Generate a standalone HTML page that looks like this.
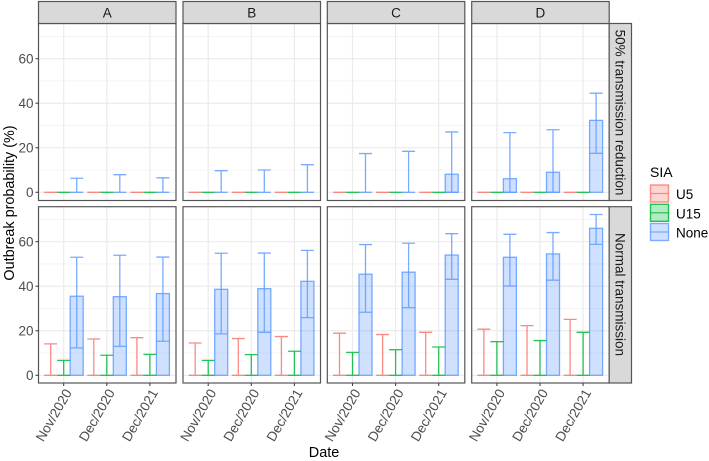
<!DOCTYPE html>
<html>
<head>
<meta charset="utf-8">
<title>Outbreak probability chart</title>
<style>
html,body{margin:0;padding:0;background:#fff;}
svg{display:block;font-family:"Liberation Sans",sans-serif;filter:blur(0.3px);}
</style>
</head>
<body>
<svg id="chart" xmlns="http://www.w3.org/2000/svg" width="709" height="461" viewBox="0 0 709 461">
<rect x="0" y="0" width="709" height="461" fill="#fff"/>
<g id="panels"></g>
<g>
<g><rect x="38.5" y="1.5" width="137.5" height="22" fill="#d9d9d9" stroke="#555" stroke-width="1.2"/><text x="107.2" y="17.5" font-size="13.5" fill="#1a1a1a" text-anchor="middle">A</text></g>
<g><rect x="183" y="1.5" width="137.5" height="22" fill="#d9d9d9" stroke="#555" stroke-width="1.2"/><text x="251.7" y="17.5" font-size="13.5" fill="#1a1a1a" text-anchor="middle">B</text></g>
<g><rect x="327.3" y="1.5" width="137.5" height="22" fill="#d9d9d9" stroke="#555" stroke-width="1.2"/><text x="396" y="17.5" font-size="13.5" fill="#1a1a1a" text-anchor="middle">C</text></g>
<g><rect x="471.7" y="1.5" width="137.5" height="22" fill="#d9d9d9" stroke="#555" stroke-width="1.2"/><text x="540.4" y="17.5" font-size="13.5" fill="#1a1a1a" text-anchor="middle">D</text></g>
</g>
<g>
<g><rect x="609.2" y="23.5" width="22.3" height="177" fill="#d9d9d9" stroke="#555" stroke-width="1.2"/><text transform="translate(615.3,112.5) rotate(90)" font-size="13.5" fill="#1a1a1a" text-anchor="middle">50% transmission reduction</text></g>
<g><rect x="609.2" y="206.7" width="22.3" height="176.3" fill="#d9d9d9" stroke="#555" stroke-width="1.2"/><text transform="translate(615.3,294.5) rotate(90)" font-size="13.5" fill="#1a1a1a" text-anchor="middle">Normal transmission</text></g>
</g>
<text transform="translate(14,203) rotate(-90)" font-size="14.4" fill="#000" text-anchor="middle">Outbreak probability (%)</text>
<text x="324" y="457" font-size="14.4" fill="#000" text-anchor="middle">Date</text>
<g>
<text x="650" y="177" font-size="14" fill="#000">SIA</text>
<g><rect x="650.5" y="185" width="18" height="17" fill="#F8766D" fill-opacity="0.3" stroke="#F8766D" stroke-opacity="0.8" stroke-width="1.4"/><line x1="650.5" x2="668.5" y1="193.5" y2="193.5" stroke="#F8766D" stroke-opacity="0.8" stroke-width="1.2"/><text x="676" y="199" font-size="13.5" fill="#000">U5</text></g>
<g><rect x="650.5" y="204.3" width="18" height="17" fill="#00BA38" fill-opacity="0.3" stroke="#00BA38" stroke-opacity="0.85" stroke-width="1.4"/><line x1="650.5" x2="668.5" y1="212.8" y2="212.8" stroke="#00BA38" stroke-opacity="0.85" stroke-width="1.2"/><text x="676" y="218.3" font-size="13.5" fill="#000">U15</text></g>
<g><rect x="650.5" y="223.5" width="18" height="17" fill="#619CFF" fill-opacity="0.3" stroke="#619CFF" stroke-opacity="0.8" stroke-width="1.4"/><line x1="650.5" x2="668.5" y1="232" y2="232" stroke="#619CFF" stroke-opacity="0.8" stroke-width="1.2"/><text x="676" y="237.5" font-size="13.5" fill="#000">None</text></g>
</g>
</svg>
<script>
// Data (rows: 0 = 50% transmission reduction, 1 = Normal transmission; each row has facets A-D with 3 dates)
var categories = ["Nov/2020", "Dec/2020", "Dec/2021"];
var facets = ["A", "B", "C", "D"];
var yTicks = [0, 20, 40, 60];
var yMinorTicks = [10, 30, 50, 70];

var reducedU5Upper = [[0,0,0],[0,0,0],[0,0,0],[0,0,0]];
var reducedU15Upper = [[0,0,0],[0,0,0],[0,0,0],[0,0,0]];
var reducedNoneUpper = [[6.3,7.9,6.5],[9.7,10,12.4],[17.4,18.4,27.1],[26.8,28.1,44.5]];
var reducedNoneValue = [[0,0,0],[0,0,0],[0,0,8.1],[6.1,9,32.3]];
var reducedNoneLower = [[0,0,0],[0,0,0],[0,0,0],[0,0,17.5]];

var normalU5Upper = [[14.1,16.3,16.9],[14.5,16.5,17.4],[18.9,18.3,19.3],[20.7,22.3,25.1]];
var normalU15Upper = [[6.7,9,9.4],[6.7,9.3,10.8],[10.3,11.5,12.7],[15.1,15.6,19.3]];
var normalNoneUpper = [[53,53.9,53.1],[54.8,54.9,56.1],[58.7,59.3,63.6],[63.3,64.1,72.2]];
var normalNoneValue = [[35.5,35.3,36.7],[38.6,38.9,42.2],[45.4,46.3,54],[53,54.5,66]];
var normalNoneLower = [[12.3,13,15.3],[18.6,19.3,25.9],[28.3,30.4,43.1],[40.1,42.7,58.8]];

var NS = "http://www.w3.org/2000/svg";
var root = document.getElementById("panels");
var panelLeft = [38.5, 183, 327.3, 471.7];
var panelW = 137.5;
var rowTop = [23.5, 206.7];
var rowZero = [192.3, 375.3];
var rowH = [177, 176.3];
var unitPx = 2.227;
var bandStep = 43.1;
var firstCat = 25.2;
var dodge = 13;

function yScale(row, v) { return rowZero[row] - v * unitPx; }
function xScale(facet, cat) { return panelLeft[facet] + firstCat + cat * bandStep; }

function mk(parent, tag, attrs) {
  var e = document.createElementNS(NS, tag);
  for (var k in attrs) { e.setAttribute(k, attrs[k]); }
  parent.appendChild(e);
  return e;
}

function drawError(g, x, lo, hi, row, color) {
  var path = mk(g, "path", {
    d: "M" + (x - dodge / 2) + " " + yScale(row, hi) + "H" + (x + dodge / 2) +
       "M" + x + " " + yScale(row, hi) + "V" + yScale(row, lo) +
       "M" + (x - dodge / 2) + " " + yScale(row, lo) + "H" + (x + dodge / 2),
    fill: "none", stroke: color, "stroke-width": 1.3, "stroke-opacity": 0.85
  });
  
  
}

function drawPanel(row, f, u5, u15, upper, value, lower) {
  var g = mk(root, "g", {});
  
  
  var left = panelLeft[f], top = rowTop[row], h = rowH[row];
  var bg = mk(g, "rect", { x: left, y: top, width: panelW, height: h, fill: "#fff" });
  
  

  yMinorTicks.forEach(function (t) {
    var l = mk(g, "line", { x1: left, x2: left + panelW, y1: yScale(row, t), y2: yScale(row, t), stroke: "#f0f0f0", "stroke-width": 0.8 });
    
    
  });
  yTicks.forEach(function (t) {
    var l = mk(g, "line", { x1: left, x2: left + panelW, y1: yScale(row, t), y2: yScale(row, t), stroke: "#ebebeb", "stroke-width": 1.2 });
    
    
  });
  categories.forEach(function (c, i) {
    var x = xScale(f, i);
    var l = mk(g, "line", { x1: x, x2: x, y1: top, y2: top + h, stroke: "#ebebeb", "stroke-width": 1.2 });
    
    
  });

  categories.forEach(function (c, i) {
    var x = xScale(f, i);
    var x1 = x - dodge, x3 = x + dodge;
    var bar = mk(g, "rect", {
      x: x3 - dodge / 2, y: yScale(row, value[f][i]), width: dodge,
      height: Math.max(0, yScale(row, 0) - yScale(row, value[f][i])),
      fill: "#619CFF", "fill-opacity": 0.3, stroke: "#619CFF", "stroke-opacity": 0.85, "stroke-width": 1.3
    });
    
    
    drawError(g, x1, 0, u5[f][i], row, "#F8766D");
    drawError(g, x, 0, u15[f][i], row, "#00BA38");
    drawError(g, x3, lower[f][i], upper[f][i], row, "#619CFF");
  });

  var border = mk(g, "rect", { x: left, y: top, width: panelW, height: h, fill: "none", stroke: "#555", "stroke-width": 1.2 });
  
  

  if (f === 0) {
    yTicks.forEach(function (t) {
      var tick = mk(g, "line", { x1: left - 3, x2: left, y1: yScale(row, t), y2: yScale(row, t), stroke: "#444", "stroke-width": 1.1 });
      
      
      var lab = mk(g, "text", { x: left - 5, y: yScale(row, t) + 4.7, "font-size": 13.5, fill: "#4d4d4d", "text-anchor": "end" });
      
      
      lab.textContent = String(t);
    });
  }
  if (row === 1) {
    categories.forEach(function (c, i) {
      var x = xScale(f, i);
      var tick = mk(g, "line", { x1: x, x2: x, y1: top + h, y2: top + h + 3, stroke: "#444", "stroke-width": 1.1 });
      
      
      var lab = mk(g, "text", { transform: "translate(" + (x + 8.5) + ",392.5) rotate(-60)", "font-size": 13.5, fill: "#4d4d4d", "text-anchor": "end" });
      
      
      lab.textContent = c;
    });
  }
}

facets.forEach(function (name, f) {
  drawPanel(0, f, reducedU5Upper, reducedU15Upper, reducedNoneUpper, reducedNoneValue, reducedNoneLower);
  drawPanel(1, f, normalU5Upper, normalU15Upper, normalNoneUpper, normalNoneValue, normalNoneLower);
});
</script>
</body>
</html>
